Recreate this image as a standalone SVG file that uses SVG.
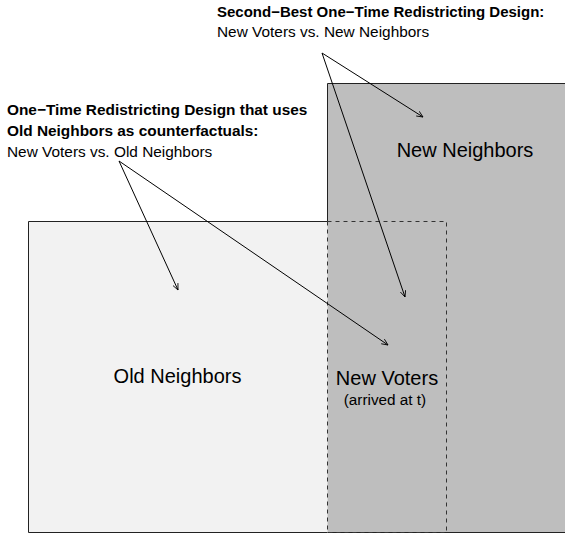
<svg xmlns="http://www.w3.org/2000/svg" width="565" height="534" viewBox="0 0 565 534">
<defs>
<style>
text{font-family:"Liberation Sans",Arial,sans-serif;fill:#000}
.b{font-weight:bold;font-size:15.4px}
.b2{font-weight:bold;font-size:15px}
.n{font-size:15.4px}
.big{font-size:20px;text-anchor:middle}
.sm{font-size:15.3px;text-anchor:middle}
.edge{fill:none;stroke:#222;stroke-width:1}
.conn{fill:none;stroke:#000;stroke-width:1;marker-end:url(#ah)}
</style>
<marker id="ah" viewBox="0 0 10 10" refX="9" refY="5" markerWidth="7" markerHeight="7" markerUnits="userSpaceOnUse" orient="auto">
<path d="M0,1 L9,5 L0,9" fill="none" stroke="#000" stroke-width="1.2"/>
</marker>
</defs>
<rect width="565" height="534" fill="#fff"/>
<g id="old-neighbors">
<rect x="28.5" y="221.5" width="299" height="311" fill="#f2f2f2"/>
<path class="edge" d="M327.5,221.5 H28.5 V532.5 H327.5"/>
<text class="big" x="177.5" y="383">Old Neighbors</text>
</g>
<g id="new-neighbors">
<rect x="327.5" y="83.5" width="238" height="449" fill="#bebebe"/>
<path class="edge" d="M327.5,221.5 V83.5 H566 M327.5,532.5 H566"/>
<text class="big" x="465" y="157">New Neighbors</text>
</g>
<g id="new-voters">
<rect x="327.5" y="221.5" width="119" height="311" fill="none" stroke="#333" stroke-dasharray="4,4"/>
<text class="big" x="387" y="385">New Voters</text>
<text class="sm" x="385" y="405">(arrived at t)</text>
</g>
<g id="label-old">
<text class="b" x="7" y="115">One−Time Redistricting Design that uses</text>
<text class="b" x="7" y="136">Old Neighbors as counterfactuals:</text>
<text class="n" x="7" y="157">New Voters vs. Old Neighbors</text>
</g>
<g id="label-new">
<text class="b2" x="217" y="16.5">Second−Best One−Time Redistricting Design:</text>
<text class="n" x="217" y="37">New Voters vs. New Neighbors</text>
</g>
<g id="connectors">
<line class="conn" x1="119" y1="161" x2="178" y2="290"/>
<line class="conn" x1="119" y1="161" x2="388" y2="345"/>
<line class="conn" x1="322" y1="53" x2="423" y2="117"/>
<line class="conn" x1="322" y1="53" x2="405" y2="297"/>
</g>
</svg>
